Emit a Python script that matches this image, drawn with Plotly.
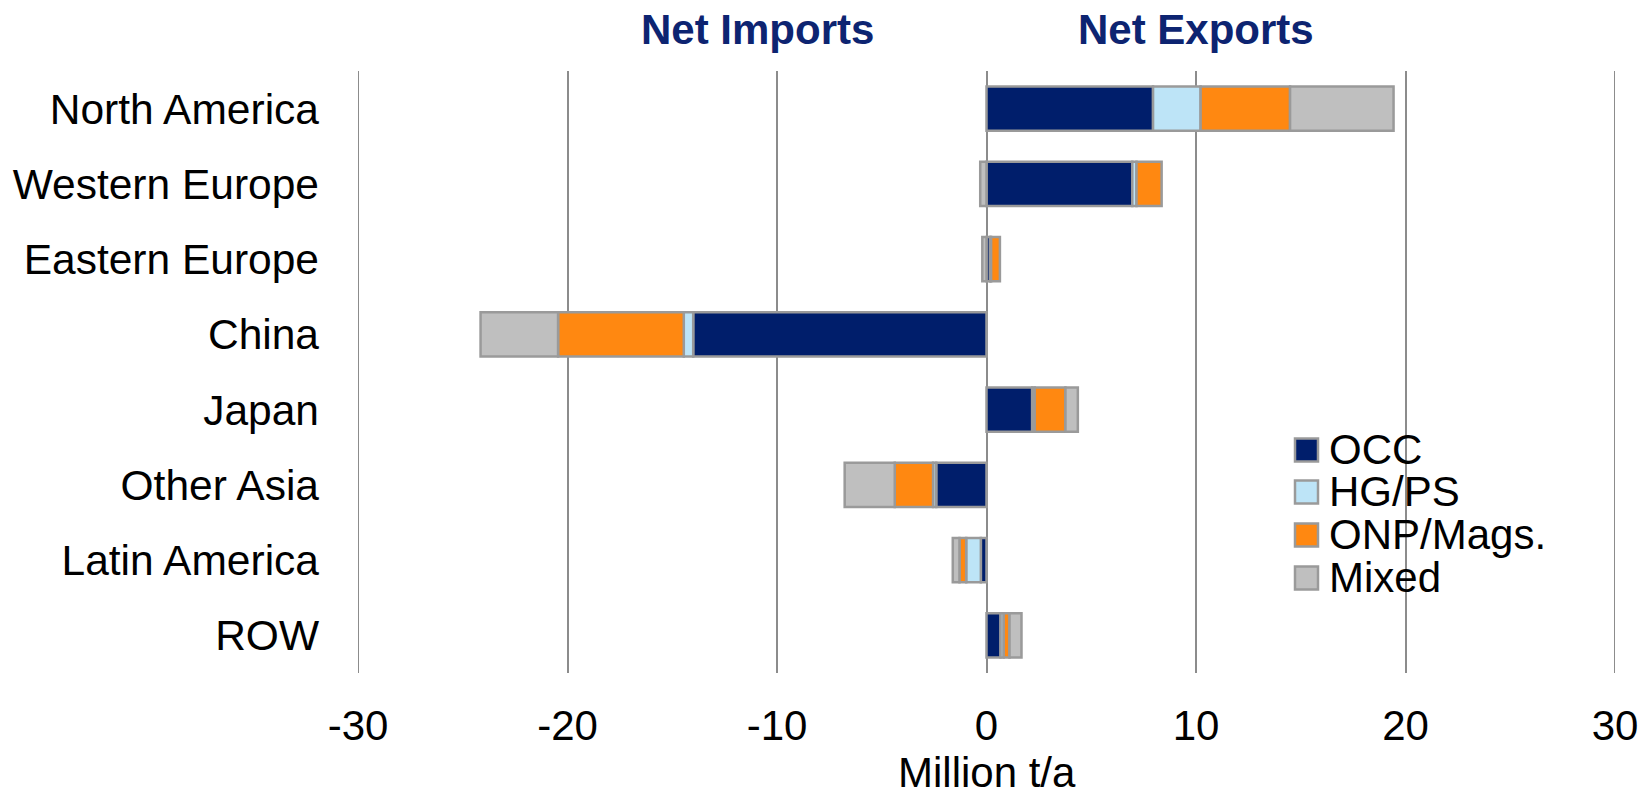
import plotly.graph_objects as go

# ---------------- data ----------------
regions = ["North America", "Western Europe", "Eastern Europe", "China",
           "Japan", "Other Asia", "Latin America", "ROW"]
series_names = ["OCC", "HG/PS", "ONP/Mags.", "Mixed"]
occ = [7.95, 6.96, 0.17, -14.0, 2.18, -2.40, -0.27, 0.67]
hgps = [2.27, 0.20, 0.05, -0.45, 0.12, -0.15, -0.70, 0.15]
onp = [4.27, 1.20, 0.42, -6.00, 1.47, -1.83, -0.32, 0.28]
mixed = [4.94, -0.30, -0.20, -3.70, 0.59, -2.39, -0.32, 0.57]
x_ticks = [-30, -20, -10, 0, 10, 20, 30]
x_title = "Million t/a"
side_labels = ["Net Imports", "Net Exports"]

colors = ["#001E6B", "#BDE4F7", "#FF8811", "#BFBFBF"]
outline = "#9A9A9A"
grid_col = "#8C8C8C"
FONT = "Arial, Liberation Sans, sans-serif"

# page body has an 8px margin: compensate
OFF = 8
W, H = 1652 - OFF, 793 - OFF
L, R, T = 358 - OFF, 37, 71 - OFF
PLOT_BOTTOM = 673 - OFF
B = H - PLOT_BOTTOM
PW, PH = W - L - R, PLOT_BOTTOM - T


def px2paper_x(px):
    return (px - OFF - L) / PW


def px2paper_y(py):
    return 1 - (py - OFF - T) / PH


fig = go.Figure()
for name, vals, col in zip(series_names, [occ, hgps, onp, mixed], colors):
    fig.add_trace(go.Bar(
        y=regions, x=vals, name=name, orientation="h",
        marker=dict(color=col, line=dict(color=outline, width=2.5)),
        showlegend=False,
    ))

fig.update_layout(
    width=W, height=H,
    margin=dict(l=L, r=R, t=T, b=B, pad=0, autoexpand=False),
    barmode="relative",
    bargap=0.41,
    plot_bgcolor="white", paper_bgcolor="white",
    font=dict(family=FONT, size=42, color="black"),
    xaxis=dict(
        range=[-30, 30], tickvals=x_ticks, ticktext=[str(v) for v in x_ticks],
        showgrid=True, gridcolor=grid_col, gridwidth=2,
        zeroline=True, zerolinecolor=grid_col, zerolinewidth=2,
        showline=False, ticks="", ticklabelstandoff=24, automargin=False,
        tickfont=dict(size=42, family=FONT, color="black"),
        fixedrange=True,
    ),
    yaxis=dict(
        categoryorder="array", categoryarray=regions, autorange="reversed",
        showgrid=False, showline=False, ticks="", ticklabelstandoff=38,
        automargin=False,
        tickfont=dict(size=42.5, family=FONT, color="black"),
        fixedrange=True,
    ),
)

# edge gridlines (plotly omits gridlines at the range ends)
for xv in (x_ticks[0], x_ticks[-1]):
    fig.add_shape(type="line", xref="x", yref="paper", x0=xv, x1=xv, y0=0, y1=1,
                  line=dict(color=grid_col, width=2), layer="below")

# x-axis title
fig.add_annotation(
    x=0.5, y=px2paper_y(772), xref="paper", yref="paper",
    text=x_title, showarrow=False, xanchor="center", yanchor="middle",
    font=dict(size=42, family=FONT, color="black"),
)

# side labels (Net Imports / Net Exports)
for txt, xpx in zip(side_labels, [757, 1196]):
    fig.add_annotation(
        x=px2paper_x(xpx), y=px2paper_y(29), xref="paper", yref="paper",
        text="<b>" + txt + "</b>", showarrow=False,
        xanchor="center", yanchor="middle",
        font=dict(size=42, family=FONT, color="#0D2471"),
    )

# custom legend
leg_x0 = 1295
sq = 23
row_y = [450, 492, 535, 578]
for name, col, cy in zip(series_names, colors, row_y):
    fig.add_shape(
        type="rect", xref="paper", yref="paper",
        x0=px2paper_x(leg_x0), x1=px2paper_x(leg_x0 + sq),
        y0=px2paper_y(cy - sq / 2), y1=px2paper_y(cy + sq / 2),
        fillcolor=col, line=dict(color=outline, width=2.5), layer="above",
    )
    fig.add_annotation(
        x=px2paper_x(1327), y=px2paper_y(cy - 1), xref="paper", yref="paper",
        text=name, showarrow=False, xanchor="left", yanchor="middle",
        font=dict(size=42, family=FONT, color="black"),
    )

fig.write_html("out.html")
